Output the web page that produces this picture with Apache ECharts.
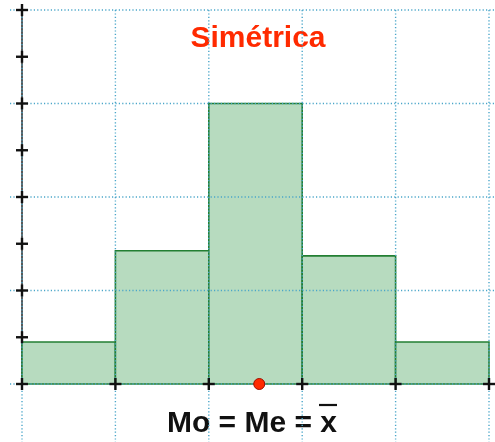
<!DOCTYPE html>
<html>
<head>
<meta charset="utf-8">
<script src="https://cdn.jsdelivr.net/npm/echarts@6/dist/echarts.min.js"></script>
<style>
  html, body { margin: 0; padding: 0; background: #fff; }
  #chart { width: 495px; height: 442px; }
</style>
</head>
<body>
<div id="chart"></div>
<script>
// class edges and bar heights of the symmetric histogram
const xEdges = [0, 1, 2, 3, 4, 5];
const barHeights = [0.9, 2.85, 6.0, 2.74, 0.9];
const yTicks = [0, 1, 2, 3, 4, 5, 6, 7, 8];
const yGrid = [0, 2, 4, 6, 8];
const centerMark = [[2.54, 0]];

var chart = echarts.init(document.getElementById("chart"), null, { renderer: "canvas" });

const bars = barHeights.map((h, i) => [xEdges[i], xEdges[i + 1], h]);
const crosses = xEdges.map(v => [v, 0]).concat(yTicks.filter(v => v > 0).map(v => [0, v]));

const dotted = { stroke: "#4aa6c9", lineWidth: 1.4, lineDash: [1.2, 2.2] };

var option = {
  animation: false,
  grid: { left: 22, right: 6, top: 10, bottom: 58 },
  xAxis: {
    type: "value", min: 0, max: 5, interval: 1,
    axisLine: { show: false }, axisTick: { show: false },
    axisLabel: { show: false }, splitLine: { show: false },
  },
  yAxis: {
    type: "value", min: 0, max: 8, interval: 1,
    axisLine: { show: true, lineStyle: { color: "#5a5a5a", width: 2 } },
    axisTick: { show: false }, axisLabel: { show: false }, splitLine: { show: false },
  },
  graphic: [
    {
      type: "text", x: 258, y: 39,
      style: {
        text: "Simétrica", fill: "#ff2a00", align: "center", verticalAlign: "middle",
        font: "bold 30px 'Liberation Sans', Arial, sans-serif",
      },
    },
    {
      type: "text", x: 252, y: 424,
      style: {
        text: "Mo = Me = x", fill: "#111", align: "center", verticalAlign: "middle",
        font: "bold 30px 'Liberation Sans', Arial, sans-serif",
      },
    },
    {
      type: "line", shape: { x1: 319, y1: 405, x2: 337, y2: 405 },
      style: { stroke: "#111", lineWidth: 2.2 },
    },
  ],
  series: [
    {
      // bars
      type: "custom", z: 1, clip: false,
      data: bars,
      encode: { x: [0, 1], y: 2 },
      renderItem: function (params, api) {
        var a = api.coord([api.value(0), api.value(2)]);
        var b = api.coord([api.value(1), 0]);
        return {
          type: "rect",
          shape: { x: a[0], y: a[1], width: b[0] - a[0], height: b[1] - a[1] },
          style: { fill: "#b7dbbf", stroke: "#237f33", lineWidth: 1.6 },
        };
      },
    },
    {
      // vertical dotted grid
      type: "custom", z: 2, clip: false, silent: true,
      data: xEdges.map(v => [v, 8]),
      renderItem: function (params, api) {
        var cs = params.coordSys;
        var p = api.coord([api.value(0), api.value(1)]);
        return { type: "line", shape: { x1: p[0], y1: p[1], x2: p[0], y2: cs.y + cs.height + 58 }, style: dotted };
      },
    },
    {
      // horizontal dotted grid
      type: "custom", z: 2, clip: false, silent: true,
      data: yGrid.map(v => [0, v]),
      renderItem: function (params, api) {
        var cs = params.coordSys;
        var p = api.coord([api.value(0), api.value(1)]);
        return { type: "line", shape: { x1: cs.x - 12, y1: p[1], x2: cs.x + cs.width + 6, y2: p[1] }, style: dotted };
      },
    },
    {
      // "+" tick marks
      type: "custom", z: 4, clip: false, silent: true,
      data: crosses,
      renderItem: function (params, api) {
        var p = api.coord([api.value(0), api.value(1)]);
        var st = { stroke: "#111", lineWidth: 2.4 };
        return {
          type: "group",
          children: [
            { type: "line", shape: { x1: p[0] - 6, y1: p[1], x2: p[0] + 6, y2: p[1] }, style: st },
            { type: "line", shape: { x1: p[0], y1: p[1] - 6, x2: p[0], y2: p[1] + 6 }, style: st },
          ],
        };
      },
    },
    {
      type: "scatter", z: 5,
      data: centerMark,
      symbolSize: 11,
      itemStyle: { color: "#ff2a00", borderColor: "#a01000", borderWidth: 1, opacity: 1 },
    },
  ],
};

option && chart.setOption(option);
</script>
</body>
</html>
